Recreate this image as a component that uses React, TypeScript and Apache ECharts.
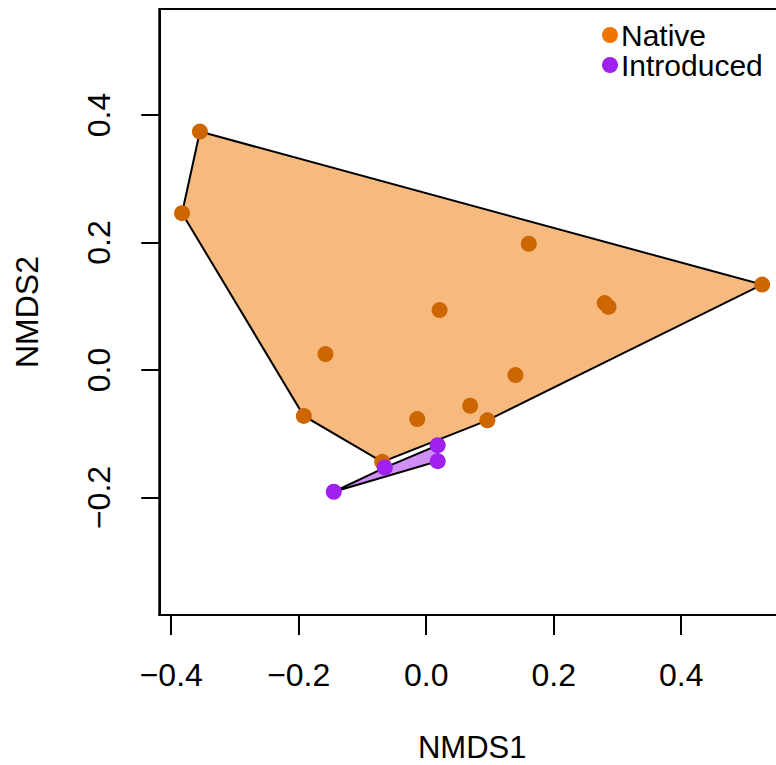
import React, { useEffect, useRef } from "react";
import * as echarts from "echarts";

const nativePoints: [number, number][] = [
  [-0.355, 0.374],
  [-0.383, 0.246],
  [-0.192, -0.072],
  [-0.069, -0.144],
  [-0.158, 0.025],
  [0.021, 0.094],
  [0.161, 0.198],
  [0.140, -0.008],
  [0.069, -0.056],
  [0.096, -0.079],
  [-0.014, -0.077],
  [0.527, 0.134],
  [0.280, 0.105],
  [0.286, 0.099],
];

const introducedPoints: [number, number][] = [
  [0.018, -0.118],
  [0.018, -0.143],
  [-0.065, -0.153],
  [-0.145, -0.191],
];

const xTicks = [-0.4, -0.2, 0.0, 0.2, 0.4];
const yTicks = [-0.2, 0.0, 0.2, 0.4];

function convexHull(pts: [number, number][]): [number, number][] {
  const p = pts.slice().sort((a, b) => (a[0] === b[0] ? a[1] - b[1] : a[0] - b[0]));
  const cross = (o: number[], a: number[], b: number[]) =>
    (a[0] - o[0]) * (b[1] - o[1]) - (a[1] - o[1]) * (b[0] - o[0]);
  const lower: [number, number][] = [];
  for (const q of p) {
    while (lower.length >= 2 && cross(lower[lower.length - 2], lower[lower.length - 1], q) <= 0) lower.pop();
    lower.push(q);
  }
  const upper: [number, number][] = [];
  for (let i = p.length - 1; i >= 0; i--) {
    const q = p[i];
    while (upper.length >= 2 && cross(upper[upper.length - 2], upper[upper.length - 1], q) <= 0) upper.pop();
    upper.push(q);
  }
  upper.pop();
  lower.pop();
  return lower.concat(upper);
}

const FONT = "Liberation Sans, Helvetica, Arial, sans-serif";

function hullSeries(pts: [number, number][], fill: string, z: number) {
  const hull = convexHull(pts);
  return {
    type: "custom",
    z,
    silent: true,
    data: [[hull[0][0], hull[0][1]]],
    encode: { x: 0, y: 1 },
    renderItem: (_params: any, api: any) => {
      const points = hull.map((h) => api.coord(h));
      return {
        type: "polygon",
        shape: { points },
        style: { fill, stroke: "#000000", lineWidth: 2 },
      };
    },
  };
}

const fmt = (v: number) => (v < 0 ? "\u2212" : "") + Math.abs(v).toFixed(1);

export default function App() {
  const ref = useRef<HTMLDivElement>(null);
  useEffect(() => {
    if (!ref.current) return;
    const chart = echarts.init(ref.current, undefined, { renderer: "svg" });
    chart.setOption({
      animation: false,
      backgroundColor: "#ffffff",
      textStyle: { fontFamily: FONT },
      grid: {
        left: 159.3,
        top: 9,
        width: 625.8,
        height: 606,
        show: true,
        borderColor: "#000000",
        borderWidth: 2,
        backgroundColor: "transparent",
        containLabel: false,
        outerBoundsMode: "none",
      },
      legend: {
        orient: "vertical",
        left: 597,
        top: 15,
        itemWidth: 16,
        itemHeight: 16,
        itemGap: 0,
        icon: "circle",
        textStyle: { fontSize: 30, color: "#000000", fontFamily: FONT, lineHeight: 30, padding: [0, 0, 0, -2] },
        data: [
          { name: "Native", itemStyle: { color: "#EE7600" } },
          { name: "Introduced", itemStyle: { color: "#A020F0" } },
        ],
      },
      xAxis: {
        type: "value",
        min: -0.4187,
        max: 0.563,
        name: "NMDS1",
        nameLocation: "middle",
        nameGap: 120,
        nameTextStyle: { fontSize: 31, lineHeight: 24, color: "#000000", fontFamily: FONT },
        axisLine: { show: true, onZero: false, lineStyle: { color: "#000000", width: 2 } },
        axisTick: {
          show: true,
          length: 20,
          lineStyle: { color: "#000000", width: 2 },
          customValues: xTicks,
        },
        axisLabel: {
          fontSize: 32,
          color: "#000000",
          fontFamily: FONT,
          margin: 44,
          customValues: xTicks,
          formatter: fmt,
        },
        splitLine: { show: false },
      },
      yAxis: {
        type: "value",
        min: -0.3843,
        max: 0.5663,
        name: "NMDS2",
        nameLocation: "middle",
        nameGap: 116,
        nameRotate: 90,
        nameTextStyle: { fontSize: 32, color: "#000000", fontFamily: FONT },
        axisLine: { show: true, onZero: false, lineStyle: { color: "#000000", width: 2 } },
        axisTick: {
          show: true,
          length: 18,
          lineStyle: { color: "#000000", width: 2 },
          customValues: yTicks,
        },
        axisLabel: {
          fontSize: 32,
          color: "#000000",
          fontFamily: FONT,
          margin: 44,
          rotate: 90,
          customValues: yTicks,
          formatter: fmt,
        },
        splitLine: { show: false },
      },
      series: [
        hullSeries(nativePoints, "#F6BA7F", 1),
        hullSeries(introducedPoints, "#CF8FF7", 2),
        {
          name: "Native",
          type: "scatter",
          z: 3,
          symbol: "circle",
          symbolSize: 16,
          itemStyle: { color: "#CD6600", opacity: 1 },
          data: nativePoints,
        },
        {
          name: "Introduced",
          type: "scatter",
          z: 4,
          symbol: "circle",
          symbolSize: 16,
          itemStyle: { color: "#A020F0", opacity: 1 },
          data: introducedPoints,
        },
      ],
    });
    return () => chart.dispose();
  }, []);
  return (
    <div
      ref={ref}
      style={{ position: "absolute", left: 0, top: 0, width: 776, height: 765 }}
    />
  );
}
